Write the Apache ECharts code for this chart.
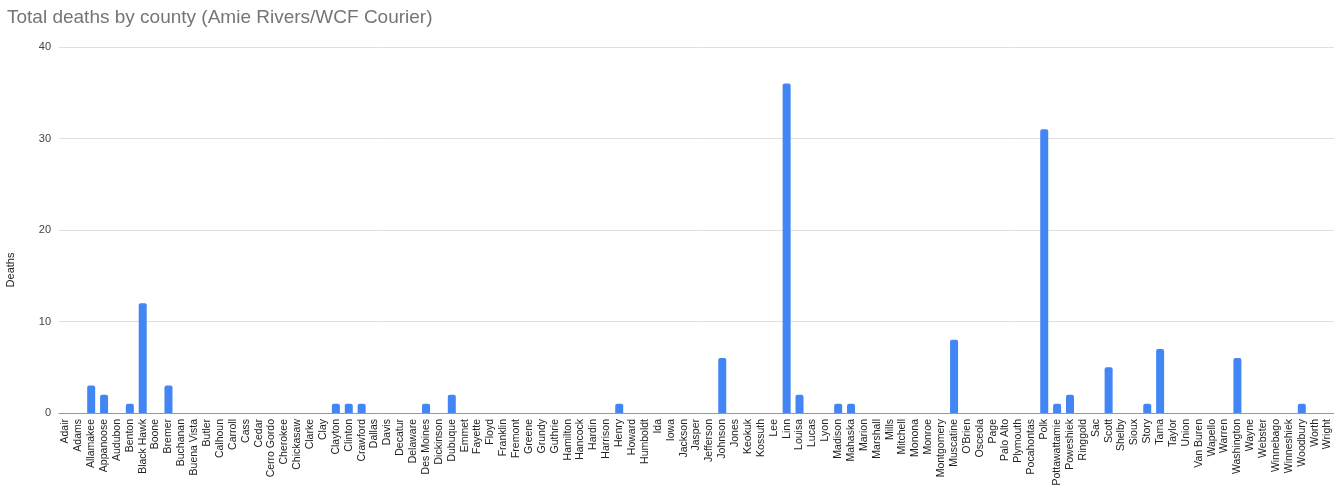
<!DOCTYPE html>
<html>
<head>
<meta charset="utf-8">
<title>Total deaths by county</title>
<script src="https://cdn.jsdelivr.net/npm/echarts@6/dist/echarts.min.js"></script>
<style>
  html, body { margin: 0; padding: 0; background: #fff; }
  #chart { width: 1334px; height: 500px; }
</style>
</head>
<body>
<div id="chart"></div>
<script>
const counties = [
  "Adair", "Adams", "Allamakee", "Appanoose", "Audubon", "Benton", "Black Hawk", "Boone", "Bremer", "Buchanan",
  "Buena Vista", "Butler", "Calhoun", "Carroll", "Cass", "Cedar", "Cerro Gordo", "Cherokee", "Chickasaw", "Clarke",
  "Clay", "Clayton", "Clinton", "Crawford", "Dallas", "Davis", "Decatur", "Delaware", "Des Moines", "Dickinson",
  "Dubuque", "Emmet", "Fayette", "Floyd", "Franklin", "Fremont", "Greene", "Grundy", "Guthrie", "Hamilton",
  "Hancock", "Hardin", "Harrison", "Henry", "Howard", "Humboldt", "Ida", "Iowa", "Jackson", "Jasper",
  "Jefferson", "Johnson", "Jones", "Keokuk", "Kossuth", "Lee", "Linn", "Louisa", "Lucas", "Lyon",
  "Madison", "Mahaska", "Marion", "Marshall", "Mills", "Mitchell", "Monona", "Monroe", "Montgomery", "Muscatine",
  "O'Brien", "Osceola", "Page", "Palo Alto", "Plymouth", "Pocahontas", "Polk", "Pottawattamie", "Poweshiek", "Ringgold",
  "Sac", "Scott", "Shelby", "Sioux", "Story", "Tama", "Taylor", "Union", "Van Buren", "Wapello",
  "Warren", "Washington", "Wayne", "Webster", "Winnebago", "Winneshiek", "Woodbury", "Worth", "Wright"
];

const deaths = [
  0, 0, 3, 2, 0, 1, 12, 0, 3, 0,
  0, 0, 0, 0, 0, 0, 0, 0, 0, 0,
  0, 1, 1, 1, 0, 0, 0, 0, 1, 0,
  2, 0, 0, 0, 0, 0, 0, 0, 0, 0,
  0, 0, 0, 1, 0, 0, 0, 0, 0, 0,
  0, 6, 0, 0, 0, 0, 36, 2, 0, 0,
  1, 1, 0, 0, 0, 0, 0, 0, 0, 8,
  0, 0, 0, 0, 0, 0, 31, 1, 2, 0,
  0, 5, 0, 0, 1, 7, 0, 0, 0, 0,
  0, 6, 0, 0, 0, 0, 1, 0, 0
];

const yTicks = [0, 10, 20, 30, 40];

const chart = echarts.init(document.getElementById("chart"), null, {renderer: "canvas"});

const font = "'Liberation Sans', Arial, sans-serif";

const option = {
  animation: false,
  backgroundColor: "#ffffff",
  title: {
    text: "Total deaths by county (Amie Rivers/WCF Courier)",
    left: 2,
    top: 3,
    textStyle: {
      fontFamily: font,
      fontSize: 19,
      fontWeight: "normal",
      color: "#757575",
    },
  },
  grid: {
    left: 59,
    right: 0,
    top: 47,
    bottom: 87,
    containLabel: false,
    outerBoundsMode: "none",
  },
  xAxis: {
    type: "category",
    data: counties,
    axisTick: {show: false},
    axisLine: {lineStyle: {color: "#999999", width: 1}},
    axisLabel: {
      interval: 0,
      rotate: 90,
      fontFamily: font,
      fontSize: 10.5,
      color: "#222222",
      margin: 6,
    },
  },
  yAxis: {
    type: "value",
    min: yTicks[0],
    max: yTicks[yTicks.length - 1],
    interval: 10,
    name: "Deaths",
    nameLocation: "middle",
    nameGap: 43,
    nameTextStyle: {
      fontFamily: font,
      fontSize: 11,
      color: "#222222",
      padding: [0, 80, 0, 0],
    },
    axisLine: {show: false},
    axisTick: {show: false},
    axisLabel: {
      fontFamily: font,
      fontSize: 11,
      color: "#444444",
      margin: 8,
    },
    splitLine: {lineStyle: {color: "#e0e0e0", width: 1}},
  },
  series: [{
    type: "bar",
    data: deaths,
    barWidth: 8,
    itemStyle: {
      color: "#4285f4",
      borderRadius: [2, 2, 0, 0],
    },
  }],
};

chart.setOption(option);
</script>
</body>
</html>
